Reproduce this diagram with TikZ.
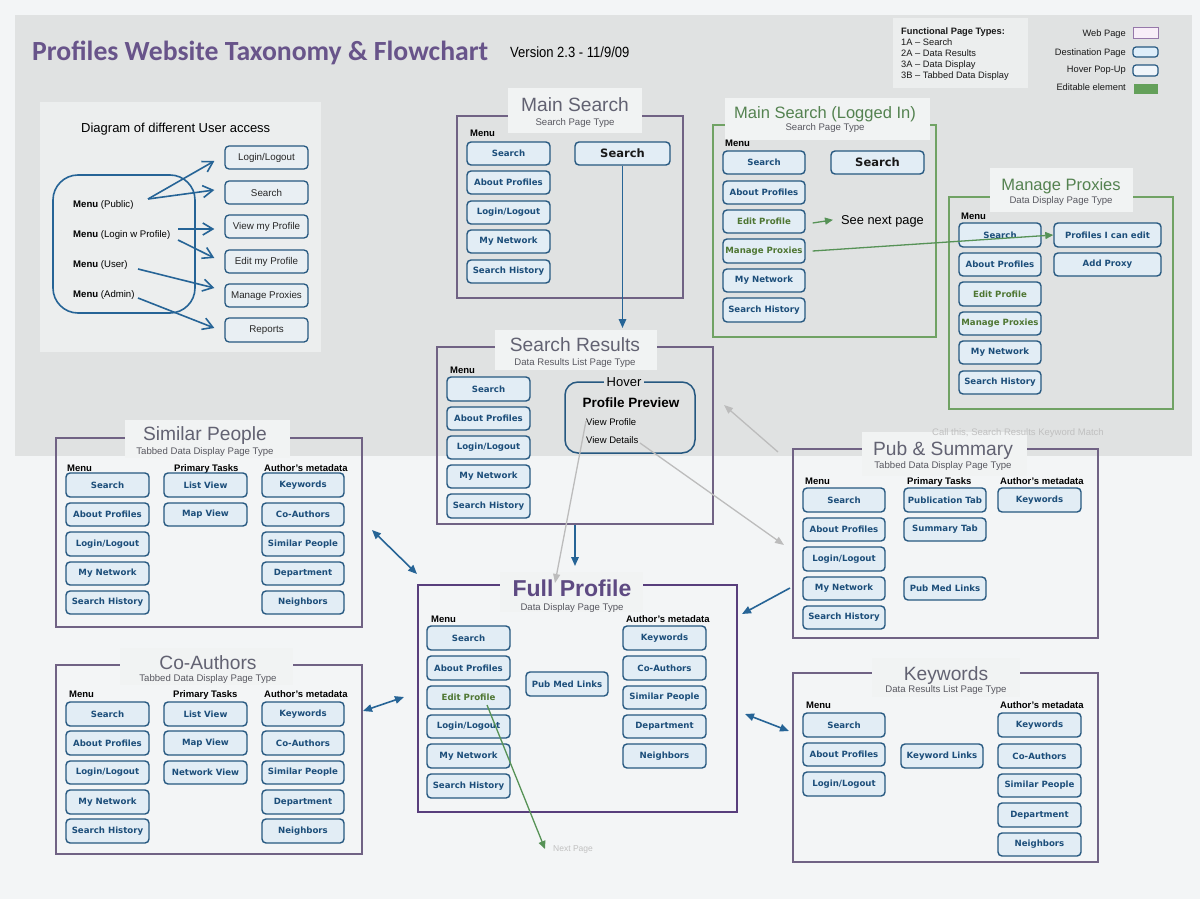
\documentclass[tikz,border=0pt]{standalone}
\usepackage{fontspec}
\setmainfont{Liberation Sans}
\newfontfamily\dvs{DejaVu Sans}
\newfontfamily\carl{Carlito}
\usetikzlibrary{arrows.meta,calc}
\definecolor{bgTop}{RGB}{224,226,226}
\definecolor{bgLow}{RGB}{243,245,246}
\definecolor{bgLight}{RGB}{236,238,238}
\definecolor{bgTB}{RGB}{241,243,243}
\definecolor{btnF}{RGB}{226,237,245}
\definecolor{btnD}{RGB}{38,88,128}
\definecolor{btnT}{RGB}{28,78,122}
\definecolor{ubF}{RGB}{233,239,243}
\definecolor{frameP}{RGB}{112,98,132}
\definecolor{frameFP}{RGB}{88,62,124}
\definecolor{frameG}{RGB}{112,162,100}
\definecolor{greenT}{RGB}{78,118,50}
\definecolor{titleG}{RGB}{98,98,114}
\definecolor{subG}{RGB}{88,88,96}
\definecolor{titleGr}{RGB}{84,130,80}
\definecolor{arrB}{RGB}{38,100,150}
\definecolor{arrG}{RGB}{188,188,188}
\definecolor{arrGr}{RGB}{86,146,86}
\definecolor{purpleT}{RGB}{104,84,138}
\definecolor{fpTitle}{RGB}{94,74,130}
\definecolor{noteG}{RGB}{192,192,192}
\definecolor{lgWebD}{RGB}{150,120,170}
\definecolor{lgWebF}{RGB}{248,238,248}
\definecolor{lgDestF}{RGB}{222,238,250}
\definecolor{lgHovF}{RGB}{240,245,250}
\definecolor{lgEdit}{RGB}{100,160,90}
\tikzset{
  btn/.style={draw=btnD, line width=1.4pt, fill=btnF, rounded corners=4pt, inner sep=0pt,
    text=btnT, font=\dvs\bfseries\fontsize{8.6}{10}\selectfont},
  gbtn/.style={text=greenT},
  bigbtn/.style={text=black!90, font=\dvs\bfseries\fontsize{11.5}{13}\selectfont},
  ubtn/.style={draw=btnD, line width=1.3pt, fill=ubF, rounded corners=4pt, inner sep=0pt,
    text=black!85, font=\fontsize{9.8}{11}\selectfont},
  frame/.style={draw=frameP, line width=1.3pt, inner sep=0pt},
  gframe/.style={draw=frameG},
  fpframe/.style={draw=frameFP, line width=2.6pt},
  tbox/.style={fill=bgTB},
  ttl/.style={anchor=base, inner sep=0pt, text=titleG, font=\fontsize{19.2}{22}\selectfont},
  gttl/.style={ttl, text=titleGr, font=\fontsize{16.5}{19}\selectfont},
  sub/.style={anchor=base, inner sep=0pt, text=subG, font=\fontsize{9.6}{11}\selectfont},
  hdrs/.style={anchor=base west, inner sep=0pt, text=black, font=\bfseries\fontsize{9.5}{11}\selectfont},
  lgd/.style={inner sep=0pt, text=black!90, font=\fontsize{9.3}{11}\selectfont},
  barr/.style={draw=arrB, line width=1.6pt, -{Triangle[length=9pt,width=7.5pt]}},
  bdarr/.style={draw=arrB, line width=1.6pt, {Triangle[length=9pt,width=7.5pt]}-{Triangle[length=9pt,width=7.5pt]}},
  garr/.style={draw=arrG, line width=1.3pt, -{Triangle[length=9pt,width=7pt]}},
  grarr/.style={draw=arrGr, line width=1.3pt, -{Triangle[length=8pt,width=7pt]}},
  uarr/.style={draw=arrB, line width=1.6pt, -{Straight Barb[length=10pt,width=12pt]}},
}
\newcommand\btnn[7][]{\node[btn,#1,minimum width={(#5-#3)*1pt},minimum height={(#6-#4)*1pt}] (#2) at ({(#3+#5)/2},{(#4+#6)/2}) {#7};}
\newcommand\ubtnn[6]{\node[ubtn,minimum width={(#4-#2)*1pt},minimum height={(#5-#3)*1pt}] (#1) at ({(#2+#4)/2},{(#3+#5)/2}) {#6};}
\newcommand\frm[6][]{\node[frame,#1,minimum width={(#5-#3)*1pt},minimum height={(#6-#4)*1pt}] (#2) at ({(#3+#5)/2},{(#4+#6)/2}) {};}
\newcommand\hdr[4]{\node[hdrs] (#1) at (#2,#3) {#4};}
\begin{document}
\begin{tikzpicture}[x=1pt,y=-1pt]
\useasboundingbox (0,0) rectangle (1200,899);
% backgrounds
\fill[bgLow] (0,0) rectangle (1200,899);
\fill[bgTop] (15,15) rectangle (1192,456);
\fill[bgLight] (40,102) rectangle (321,352);
\fill[bgLight] (893,18) rectangle (1028,88);

% title
\node[anchor=base west, inner sep=0pt, text=purpleT] (title) at (32,61)
  {\resizebox{456pt}{!}{\carl\bfseries Profiles Website Taxonomy \& Flowchart}};
\node[anchor=base west, inner sep=0pt] (ver) at (510,58)
  {\scalebox{0.88}[1]{\fontsize{14.8}{16}\selectfont Version 2.3 - 11/9/09}};

% legend
\node[lgd, anchor=base west, font=\bfseries\fontsize{9.3}{11}\selectfont] (lgT) at (901,35) {Functional Page Types:};
\node[lgd, anchor=base west] (lg1) at (901,46) {1A -- Search};
\node[lgd, anchor=base west] (lg2) at (901,57) {2A -- Data Results};
\node[lgd, anchor=base west] (lg3) at (901,68) {3A -- Data Display};
\node[lgd, anchor=base west] (lg4) at (901,79) {3B -- Tabbed Data Display};
\node[lgd, anchor=base east] (lgW) at (1126,36.5) {Web Page};
\node[lgd, anchor=base east] (lgD) at (1126,55.5) {Destination Page};
\node[lgd, anchor=base east] (lgH) at (1126,72.5) {Hover Pop-Up};
\node[lgd, anchor=base east] (lgE) at (1126,90) {Editable element};
\draw[draw=lgWebD, fill=lgWebF, line width=1pt] (1133,28) rectangle (1158,39);
\draw[draw=btnD, fill=lgDestF, line width=1.2pt, rounded corners=3pt] (1133,47) rectangle (1158,57);
\draw[draw=btnD, fill=lgHovF, line width=1.2pt, rounded corners=3pt] (1133,65) rectangle (1158,76);
\fill[lgEdit] (1134,84) rectangle (1158,94);

% user access diagram
\node[anchor=base west, inner sep=0pt, font=\fontsize{13}{15}\selectfont] (uaT) at (81,132) {Diagram of different User access};
\node[draw=arrB, line width=1.6pt, rounded corners=25pt, minimum width=142pt, minimum height=138pt, inner sep=0pt] (ua) at (124,244) {};
\node[anchor=base west, inner sep=0pt, font=\fontsize{9.6}{11}\selectfont] (mPub) at (73,207.5) {\textbf{Menu} (Public)};
\node[anchor=base west, inner sep=0pt, font=\fontsize{9.6}{11}\selectfont] (mLwp) at (73,237.5) {\textbf{Menu} (Login w Profile)};
\node[anchor=base west, inner sep=0pt, font=\fontsize{9.6}{11}\selectfont] (mUsr) at (73,267.5) {\textbf{Menu} (User)};
\node[anchor=base west, inner sep=0pt, font=\fontsize{9.6}{11}\selectfont] (mAdm) at (73,297) {\textbf{Menu} (Admin)};
\ubtnn{uLog}{225}{146}{308}{169}{Login/Logout}
\ubtnn{uSea}{225}{181}{308}{204}{Search}
\ubtnn{uView}{225}{215}{308}{238}{View my Profile}
\ubtnn{uEdit}{225}{250}{308}{273}{Edit my Profile}
\ubtnn{uMan}{225}{284}{308}{307}{Manage Proxies}
\ubtnn{uRep}{225}{318}{308}{342}{Reports}
\coordinate (pubO) at (148,199);
\coordinate (lwpO1) at (178,229);
\coordinate (lwpO2) at (178,240);
\coordinate (usrO) at (138,269);
\coordinate (admO) at (138,298);
\draw[uarr] (pubO) -- ($(uLog.west)+(-10,3.5)$);
\draw[uarr] (pubO) -- ($(uSea.west)+(-10,-2.5)$);
\draw[uarr] (lwpO1) -- ($(uView.west)+(-10,2.5)$);
\draw[uarr] (lwpO2) -- ($(uEdit.west)+(-10,-3.5)$);
\draw[uarr] (usrO) -- ($(uMan.west)+(-10,-7.5)$);
\draw[uarr] (admO) -- ($(uRep.west)+(-10,-2)$);

% ===== Main Search
\frm{msF}{457}{116}{683}{298}
\fill[tbox] (508,88) rectangle (642,133);
\node[ttl] (msT) at (575,111) {Main Search};
\node[sub] (msS) at (575,125.5) {Search Page Type};
\hdr{msM}{470}{136.5}{Menu}
\btnn{ms1}{467}{142}{550}{165}{Search}
\btnn{ms2}{467}{171}{550}{194}{About Profiles}
\btnn{ms3}{467}{201}{550}{224}{Login/Logout}
\btnn{ms4}{467}{230}{550}{253}{My Network}
\btnn{ms5}{467}{260}{550}{283}{Search History}
\btnn[bigbtn]{msBig}{575}{142}{670}{165}{Search}

% ===== Main Search (Logged In)
\frm[gframe]{liF}{713}{125}{936}{337}
\fill[tbox] (725,98) rectangle (930,140);
\node[gttl] (liT) at (825,118) {Main Search (Logged In)};
\node[sub] (liS) at (825,130.5) {Search Page Type};
\hdr{liM}{725}{146.5}{Menu}
\btnn{li1}{723}{151}{805}{174}{Search}
\btnn{li2}{723}{181}{805}{204}{About Profiles}
\btnn[gbtn]{li3}{723}{210}{805}{233}{Edit Profile}
\btnn[gbtn]{li4}{723}{239}{805}{263}{Manage Proxies}
\btnn{li5}{723}{269}{805}{292}{My Network}
\btnn{li6}{723}{298}{805}{322}{Search History}
\btnn[bigbtn]{liBig}{831}{151}{924}{174}{Search}
\node[anchor=base west, inner sep=0pt, font=\fontsize{12.8}{15}\selectfont] (snp) at (841,224.5) {See next page};

% ===== Manage Proxies
\frm[gframe]{mpF}{949}{197}{1173}{409}
\fill[tbox] (990,168) rectangle (1133,212);
\node[gttl] (mpT) at (1061,190) {Manage Proxies};
\node[sub] (mpS) at (1061,203.3) {Data Display Page Type};
\hdr{mpM}{961}{219.5}{Menu}
\btnn{mp1}{959}{223}{1041}{247}{Search}
\btnn{mp2}{959}{253}{1041}{276}{About Profiles}
\btnn[gbtn]{mp3}{959}{282}{1041}{306}{Edit Profile}
\btnn[gbtn]{mp4}{959}{312}{1041}{335}{Manage Proxies}
\btnn{mp5}{959}{341}{1041}{364}{My Network}
\btnn{mp6}{959}{371}{1041}{394}{Search History}
\btnn{pie}{1054}{223}{1161}{247}{Profiles I can edit}
\btnn{addp}{1054}{253}{1161}{276}{Add Proxy}

% ===== Search Results
\frm{srF}{437}{347}{713}{524}
\fill[tbox] (495,330) rectangle (657,370);
\node[ttl] (srT) at (575,351) {Search Results};
\node[sub] (srS) at (575,365.3) {Data Results List Page Type};
\hdr{srM}{450}{373.5}{Menu}
\btnn{sr1}{447}{377}{530}{401}{Search}
\btnn{sr2}{447}{407}{530}{430}{About Profiles}
\btnn{sr3}{447}{436}{530}{459}{Login/Logout}
\btnn{sr4}{447}{465}{530}{488}{My Network}
\btnn{sr5}{447}{494}{530}{518}{Search History}
\node[draw=btnD, line width=1.5pt, rounded corners=13pt, minimum width=130pt, minimum height=71pt, inner sep=0pt] (hv) at (630,417.5) {};
\node[anchor=base, fill=bgTop, inner sep=3pt, font=\fontsize{13}{15}\selectfont] (hvL) at (624,386.5) {Hover};
\node[anchor=base, inner sep=0pt, font=\bfseries\fontsize{13.5}{15}\selectfont] (pp) at (631,407) {Profile Preview};
\node[anchor=base west, inner sep=0pt, font=\fontsize{9.5}{11}\selectfont] (vp) at (586,425.5) {View Profile};
\node[anchor=base west, inner sep=0pt, font=\fontsize{9.5}{11}\selectfont] (vd) at (586,443.5) {View Details};

% ===== Similar People
\frm{spF}{56}{438}{362}{627}
\fill[tbox] (125,420) rectangle (290,458);
\node[ttl] (spT) at (205,440) {Similar People};
\node[sub] (spS) at (205,454.3) {Tabbed Data Display Page Type};
\hdr{spM}{67}{471.5}{Menu}
\hdr{spP}{174}{471.5}{Primary Tasks}
\hdr{spA}{264}{471.5}{Author's metadata}
\btnn{sp1}{66}{473}{149}{497}{Search}
\btnn{sp2}{66}{503}{149}{526}{About Profiles}
\btnn{sp3}{66}{532}{149}{556}{Login/Logout}
\btnn{sp4}{66}{562}{149}{585}{My Network}
\btnn{sp5}{66}{591}{149}{614}{Search History}
\btnn{spL}{164}{473}{247}{497}{List View}
\btnn{spMv}{164}{503}{247}{526}{Map View}
\btnn{spK}{262}{473}{344}{497}{Keywords}
\btnn{spC}{262}{503}{344}{526}{Co-Authors}
\btnn{spS2}{262}{532}{344}{556}{Similar People}
\btnn{spD}{262}{562}{344}{585}{Department}
\btnn{spN}{262}{591}{344}{614}{Neighbors}

% ===== Pub & Summary
\frm{psF}{793}{449}{1098}{638}
\fill[tbox] (862,432) rectangle (1027,476);
\node[anchor=base west, inner sep=0pt, text=noteG, font=\fontsize{9.5}{11}\selectfont] (callT) at (932,435.5) {Call this, Search Results Keyword Match};
\node[ttl] (psT) at (943,455) {Pub \& Summary};
\node[sub] (psS) at (943,468.3) {Tabbed Data Display Page Type};
\hdr{psM}{805}{484.5}{Menu}
\hdr{psP}{907}{484.5}{Primary Tasks}
\hdr{psA}{1000}{484.5}{Author's metadata}
\btnn{ps1}{803}{488}{885}{512}{Search}
\btnn{ps2}{803}{518}{885}{541}{About Profiles}
\btnn{ps3}{803}{547}{885}{571}{Login/Logout}
\btnn{ps4}{803}{577}{885}{600}{My Network}
\btnn{ps5}{803}{606}{885}{629}{Search History}
\btnn{psPub}{904}{488}{986}{512}{Publication Tab}
\btnn{psSum}{904}{518}{986}{541}{Summary Tab}
\btnn{psPm}{904}{577}{986}{600}{Pub Med Links}
\btnn{psK}{998}{488}{1081}{512}{Keywords}

% ===== Full Profile
\frm[fpframe]{fpF}{418}{585}{737}{812}
\fill[tbox] (500,572) rectangle (643,612);
\node[anchor=base, inner sep=0pt, text=fpTitle, font=\bfseries\fontsize{23}{26}\selectfont] (fpT) at (572,596) {Full Profile};
\node[sub] (fpS) at (572,610.3) {Data Display Page Type};
\hdr{fpM}{431}{622.5}{Menu}
\hdr{fpA}{626}{622.5}{Author's metadata}
\btnn{fp1}{427}{626}{510}{650}{Search}
\btnn{fp2}{427}{656}{510}{680}{About Profiles}
\btnn[gbtn]{fp3}{427}{686}{510}{709}{Edit Profile}
\btnn{fp4}{427}{715}{510}{738}{Login/Logout}
\btnn{fp5}{427}{744}{510}{768}{My Network}
\btnn{fp6}{427}{774}{510}{798}{Search History}
\btnn{fpPm}{526}{672}{608}{696}{Pub Med Links}
\btnn{fpK}{623}{626}{706}{650}{Keywords}
\btnn{fpC}{623}{656}{706}{680}{Co-Authors}
\btnn{fpS2}{623}{686}{706}{709}{Similar People}
\btnn{fpD}{623}{715}{706}{738}{Department}
\btnn{fpN}{623}{744}{706}{768}{Neighbors}
\node[anchor=base west, inner sep=0pt, text=noteG, font=\fontsize{8.5}{10}\selectfont] (np) at (553,851) {Next Page};

% ===== Co-Authors
\frm{caF}{56}{665}{362}{854}
\fill[tbox] (120,648) rectangle (293,685);
\node[ttl] (caT) at (208,669) {Co-Authors};
\node[sub] (caS) at (208,681.3) {Tabbed Data Display Page Type};
\hdr{caM}{69}{697.5}{Menu}
\hdr{caP}{173}{697.5}{Primary Tasks}
\hdr{caA}{264}{697.5}{Author's metadata}
\btnn{ca1}{66}{702}{149}{726}{Search}
\btnn{ca2}{66}{731}{149}{755}{About Profiles}
\btnn{ca3}{66}{761}{149}{784}{Login/Logout}
\btnn{ca4}{66}{790}{149}{814}{My Network}
\btnn{ca5}{66}{819}{149}{843}{Search History}
\btnn{caL}{164}{702}{247}{726}{List View}
\btnn{caMv}{164}{731}{247}{755}{Map View}
\btnn{caNv}{164}{761}{247}{784}{Network View}
\btnn{caK}{262}{702}{344}{726}{Keywords}
\btnn{caC}{262}{731}{344}{755}{Co-Authors}
\btnn{caS2}{262}{761}{344}{784}{Similar People}
\btnn{caD}{262}{790}{344}{814}{Department}
\btnn{caN}{262}{819}{344}{843}{Neighbors}

% ===== Keywords
\frm{kwF}{793}{673}{1098}{862}
\fill[tbox] (872,658) rectangle (1020,697);
\node[ttl] (kwT) at (946,680) {Keywords};
\node[sub] (kwS) at (946,692.3) {Data Results List Page Type};
\hdr{kwM}{806}{708.5}{Menu}
\hdr{kwA}{1000}{708.5}{Author's metadata}
\btnn{kw1}{803}{713}{885}{737}{Search}
\btnn{kw2}{803}{743}{885}{766}{About Profiles}
\btnn{kw3}{803}{772}{885}{796}{Login/Logout}
\btnn{kwL}{901}{744}{983}{768}{Keyword Links}
\btnn{kwK}{998}{713}{1081}{737}{Keywords}
\btnn{kwC}{998}{744}{1081}{768}{Co-Authors}
\btnn{kwS2}{998}{774}{1081}{797}{Similar People}
\btnn{kwD}{998}{803}{1081}{827}{Department}
\btnn{kwN}{998}{833}{1081}{856}{Neighbors}

% ===== connectors
\coordinate (srIn) at (622.5,328);
\coordinate (fpIn) at (575,566);
\coordinate (spE) at (372,530);
\coordinate (fpSP) at (417,574);
\coordinate (caE) at (363,711);
\coordinate (fpCA) at (404,697);
\coordinate (psO) at (790,588);
\coordinate (fpPS) at (742,614);
\coordinate (fpKW) at (745,714);
\coordinate (kwE) at (789,731);
\draw[barr] (msBig.south) -- (srIn);
\draw[barr] (srF.south) -- (fpIn);
\draw[bdarr] (spE) -- (fpSP);
\draw[bdarr] (caE) -- (fpCA);
\draw[barr] (psO) -- (fpPS);
\draw[bdarr] (fpKW) -- (kwE);
% gray
\coordinate (vpO) at (586,421);
\coordinate (vpI) at (555,583);
\coordinate (vdO) at (640,443);
\coordinate (vdI) at (784,545);
\coordinate (psG) at (778,452);
\coordinate (srG) at (724,405);
\draw[garr] (vpO) -- (vpI);
\draw[garr] (vdO) -- (vdI);
\draw[garr] (psG) -- (srG);
% green
\draw[grarr] ($(li3.east)+(7,1.5)$) -- ($(snp.west)+(-8,-1.5)$);
\draw[grarr] ($(li4.east)+(7,0)$) -- (pie.west);
\coordinate (epO) at (487,705);
\coordinate (npI) at (545,849);
\draw[grarr] (epO) -- (npI);
\end{tikzpicture}
\end{document}
